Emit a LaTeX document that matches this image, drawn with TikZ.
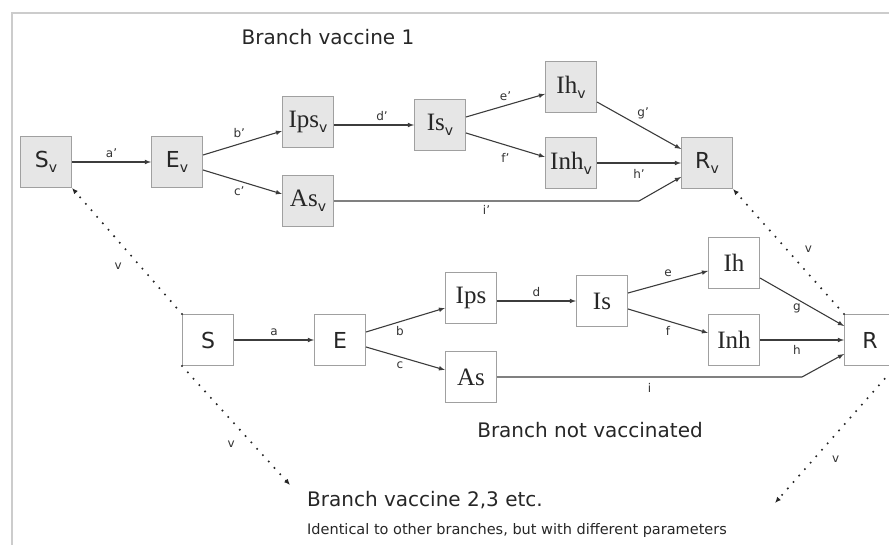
\documentclass[tikz,border=0pt]{standalone}
\usepackage{fontspec}
\setmainfont{DejaVu Sans}
\newfontfamily\boxserif{Liberation Serif}
\usepackage{tikz}
\usetikzlibrary{calc,arrows.meta}

\definecolor{boxfill}{HTML}{E6E6E6}
\definecolor{boxline}{HTML}{A0A0A0}
\definecolor{flowline}{HTML}{3C3C3C}
\definecolor{framegray}{HTML}{CCCCCC}

\newcommand\vsub{\raisebox{-5pt}{\fontsize{14}{14}\selectfont v}}
\newcommand\cname[1]{{\boxserif\fontsize{25}{25}\selectfont #1}}

\begin{document}
\begin{tikzpicture}[x=1pt,y=-1pt,
  comp/.style={draw=boxline,line width=1pt,minimum width=51pt,minimum height=51pt,
    inner sep=0pt,text=black!85,font=\fontsize{22}{22}\selectfont},
  vcomp/.style={comp,fill=boxfill},
  flow/.style={draw=flowline,line width=1.1pt,-latex},
  vacc/.style={draw=black!85,line width=2.3pt,line cap=round,
    dash pattern=on 0pt off 8.6pt,-{Latex[length=6pt,width=5pt]}},
  rate/.style={font=\fontsize{12}{12}\selectfont,text=black!80},
  title/.style={font=\fontsize{20}{20}\selectfont,text=black!85,inner sep=0pt}]
\useasboundingbox (0,0) rectangle (889,545);
\clip (0,0) rectangle (889,545);

% frame
\draw[framegray,line width=1.5pt] (12,545) -- (12,13) -- (889,13);

% branch vaccine 1
\node[vcomp] (Sv)   at (46,162)  {S\vsub};
\node[vcomp] (Ev)   at (177,162) {E\vsub};
\node[vcomp] (Ipsv) at (308,122) {\cname{Ips}\vsub};
\node[vcomp] (Asv)  at (308,201) {\cname{As}\vsub};
\node[vcomp] (Isv)  at (440,125) {\cname{Is}\vsub};
\node[vcomp] (Ihv)  at (571,87)  {\cname{Ih}\vsub};
\node[vcomp] (Inhv) at (571,163) {\cname{Inh}\vsub};
\node[vcomp] (Rv)   at (707,163) {R\vsub};
\coordinate (ibendv) at (639,201);

\draw[flow] (Sv) -- node[rate,above] {a'} (Ev);
\draw[flow] ([yshift=7pt]Ev.east) -- node[rate,above=2pt,pos=0.46] {b'} ([yshift=-9pt]Ipsv.west);
\draw[flow] ([yshift=-8pt]Ev.east) -- node[rate,below=2pt,pos=0.46] {c'} ([yshift=7pt]Asv.west);
\draw[flow] ([yshift=-3pt]Ipsv.east) -- node[rate,above,pos=0.6] {d'} (Isv.west);
\draw[flow] ([yshift=8pt]Isv.east) -- node[rate,above=1pt] {e'} ([yshift=-7pt]Ihv.west);
\draw[flow] ([yshift=-8pt]Isv.east) -- node[rate,below=5pt] {f'} ([yshift=6pt]Inhv.west);
\draw[flow] ([yshift=-15pt]Ihv.east) -- node[rate,above=5pt,pos=0.55] {g'} ([yshift=14pt]Rv.west);
\draw[flow] (Inhv) -- node[rate,below=3pt] {h'} (Rv);
\draw[flow] (Asv.east) -- node[rate,below=1pt] {i'} (ibendv) -- ([yshift=-14pt]Rv.west);

% branch not vaccinated
\node[comp] (S)   at (208,340) {S};
\node[comp] (E)   at (340,340) {E};
\node[comp] (Ips) at (471,298) {\cname{Ips}};
\node[comp] (As)  at (471,377) {\cname{As}};
\node[comp] (Is)  at (602,301) {\cname{Is}};
\node[comp] (Ih)  at (734,263) {\cname{Ih}};
\node[comp] (Inh) at (734,340) {\cname{Inh}};
\node[comp] (R)   at (870,340) {R};
\coordinate (ibend) at (802,377);

\draw[flow] (S) -- node[rate,above] {a} (E);
\draw[flow] ([yshift=8pt]E.east) -- node[rate,below=1pt,pos=0.43] {b} ([yshift=-10pt]Ips.west);
\draw[flow] ([yshift=-7pt]E.east) -- node[rate,below=1pt,pos=0.43] {c} ([yshift=7pt]As.west);
\draw[flow] ([yshift=-3pt]Ips.east) -- node[rate,above] {d} (Is.west);
\draw[flow] ([yshift=8pt]Is.east) -- node[rate,above=1pt] {e} ([yshift=-8pt]Ih.west);
\draw[flow] ([yshift=-8pt]Is.east) -- node[rate,below=2pt] {f} ([yshift=7pt]Inh.west);
\draw[flow] ([yshift=-15pt]Ih.east) -- node[rate,below=1pt,pos=0.44] {g} ([yshift=14pt]R.west);
\draw[flow] (Inh) -- node[rate,below=2pt,pos=0.44] {h} (R);
\draw[flow] (As.east) -- node[rate,below=2pt] {i} (ibend) -- ([yshift=-14pt]R.west);

% vaccination links
\coordinate (vendS) at (290,485);
\coordinate (vendR) at (775,503);
\draw[vacc] (S.north west) -- node[rate,left=14pt,pos=0.38] {v} (Sv.south east);
\draw[vacc] (S.south west) -- node[rate,left=14pt,pos=0.66] {v} (vendS);
\draw[vacc] (R.north west) -- node[rate,right=14pt,pos=0.52] {v} (Rv.south east);
\draw[vacc] (R.south east) -- node[rate,right=14pt,pos=0.68] {v} (vendR);

% titles
\node[title] (tvacc1) at (328,37) {Branch vaccine 1};
\node[title] (tnovacc) at (590,430) {Branch not vaccinated};
\node[title,anchor=west] (tvacc2) at (307,500) {Branch vaccine 2,3 etc.};
\node[title,anchor=west,font=\fontsize{14.5}{14.5}\selectfont] (tnote) at (307,530)
  {Identical to other branches, but with different parameters};
\end{tikzpicture}
\end{document}
